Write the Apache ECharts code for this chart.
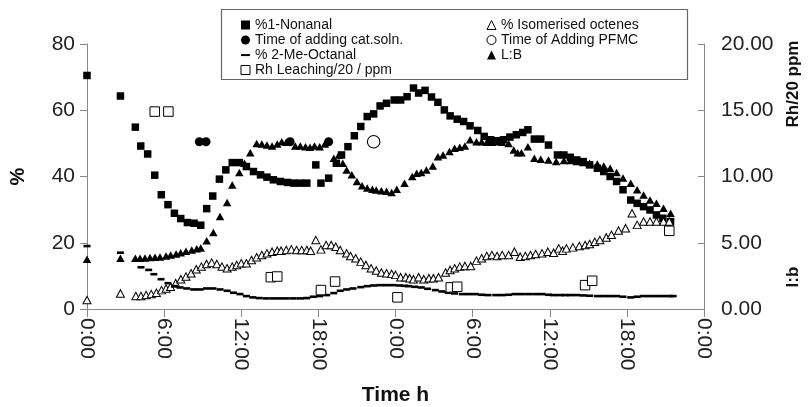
<!DOCTYPE html>
<html>
<head>
<meta charset="utf-8">
<script src="https://cdn.jsdelivr.net/npm/echarts@6/dist/echarts.min.js"></script>
<style>
html,body{margin:0;padding:0;background:#fff;}
#chart{width:809px;height:407px;}
</style>
</head>
<body>
<div id="chart"></div>
<script>
// ---- Data (x = elapsed time in hours) ----
const xTickLabels = ['0:00','6:00','12:00','18:00','0:00','6:00','12:00','18:00','0:00'];

// left axis (%)
const nonanal = [[0,70.5],[2.6,64.3],[3.76,54.9],[4.18,49.2],[4.72,46.8],[5.27,40.4],[5.78,34.5],[6.3,31.5],[6.8,28.9],[7.29,27.3],[7.81,26.1],[8.33,25.9],[8.85,25.3],[9.31,30.3],[9.78,34.1],[10.3,39.2],[10.8,42.0],[11.3,44.2],[11.85,44.2],[12.4,43.0],[12.95,41.5],[13.5,40.5],[14.0,39.8],[14.5,39.0],[15.05,38.5],[15.6,38.2],[16.1,38.0],[16.6,38.0],[17.1,38.0],[17.8,43.5],[18.2,38.0],[18.8,39.5],[19.4,44.0],[19.8,46.5],[20.3,49.0],[20.8,52.3],[21.3,55.1],[21.8,58.1],[22.3,58.9],[22.8,61.3],[23.3,62.1],[23.9,63.1],[24.4,63.1],[24.9,64.1],[25.4,66.7],[25.8,65.2],[26.3,66.0],[26.8,64.0],[27.3,62.4],[27.8,60.1],[28.25,58.3],[28.8,57.3],[29.3,56.6],[29.8,55.3],[30.4,53.9],[30.9,52.1],[31.4,51.1],[31.9,50.8],[32.4,51.1],[32.9,51.9],[33.4,52.6],[33.9,53.3],[34.3,54.1],[34.8,51.3],[35.3,51.3],[35.9,49.5],[36.6,46.5],[37.1,46.5],[37.6,45.8],[38.1,45.0],[38.6,44.5],[39.1,43.5],[39.7,42.5],[40.2,41.5],[40.7,40.0],[41.2,38.5],[41.7,36.0],[42.3,32.9],[42.8,31.9],[43.3,30.9],[43.8,29.9],[44.3,28.4],[44.8,27.4],[45.4,26.4]];

const isomerised = [[0,2.7],[2.6,4.7],[3.8,3.9],[4.2,3.9],[4.6,4.2],[5.0,4.5],[5.4,4.9],[5.8,5.7],[6.15,6.2],[6.5,6.7],[6.9,7.8],[7.3,9.0],[7.7,9.8],[8.1,10.8],[8.5,12.0],[8.9,12.8],[9.3,13.6],[9.7,14.0],[10.1,13.6],[10.5,12.8],[10.9,12.3],[11.3,12.8],[11.65,13.3],[12.0,13.8],[12.4,13.8],[12.8,14.8],[13.2,15.6],[13.6,16.3],[14.0,16.8],[14.4,17.3],[14.8,17.6],[15.1,17.6],[15.5,17.8],[15.9,18.0],[16.3,17.8],[16.7,17.8],[17.1,17.8],[17.4,17.6],[17.8,20.8],[18.2,18.0],[18.6,19.3],[19.0,19.3],[19.35,18.8],[19.7,17.8],[20.2,16.8],[20.5,16.0],[20.9,15.3],[21.3,14.3],[21.7,13.3],[22.1,12.3],[22.5,11.6],[22.9,11.0],[23.3,10.8],[23.7,10.6],[24.0,10.3],[24.4,9.6],[24.8,9.6],[25.1,9.3],[25.4,9.0],[25.8,9.6],[26.2,9.0],[26.6,9.3],[26.95,9.3],[27.35,9.6],[27.9,11.0],[28.25,11.8],[28.6,12.3],[29.0,12.8],[29.4,13.0],[29.85,13.0],[30.3,14.6],[30.7,15.3],[31.1,16.0],[31.5,16.3],[31.9,16.0],[32.3,16.3],[32.8,16.3],[33.25,17.3],[33.7,15.8],[34.1,16.0],[34.5,16.3],[34.9,16.6],[35.4,16.8],[35.85,17.3],[36.3,17.0],[36.7,18.3],[37.0,17.6],[37.3,18.3],[37.8,18.6],[38.3,19.0],[38.75,19.3],[39.1,19.6],[39.5,20.3],[39.9,20.8],[40.4,21.6],[40.8,22.4],[41.35,23.7],[41.9,24.4],[42.4,28.9],[42.8,25.4],[43.3,26.4],[43.8,26.4],[44.3,26.4],[44.85,26.4],[45.3,26.4]];

const catSoln = [[8.74,50.5],[9.26,50.5],[15.8,50.5],[18.8,50.5]];
const pfmc = [[22.3,50.5]];

const meOctanal = [[0,19.0],[2.6,17.0],[4.2,12.6],[4.8,11.8],[5.2,10.5],[5.76,9.0],[6.3,7.8],[6.8,6.9],[7.24,6.5],[7.76,6.2],[8.3,5.9],[8.8,5.9],[9.3,6.2],[9.8,6.2],[10.35,5.9],[10.9,5.5],[11.4,4.9],[11.9,4.5],[12.4,3.9],[12.9,3.5],[13.4,3.3],[13.95,3.2],[14.5,3.2],[15.0,3.2],[15.5,3.2],[16.05,3.2],[16.6,3.2],[17.1,3.3],[17.6,3.7],[18.1,3.9],[18.65,4.2],[19.2,4.8],[19.7,5.5],[20.2,5.9],[20.7,6.2],[21.3,6.6],[21.8,6.9],[22.3,7.1],[22.8,7.2],[23.3,7.2],[23.8,7.2],[24.3,7.1],[24.7,7.0],[25.0,6.9],[25.5,6.7],[26.0,6.5],[26.5,6.1],[27.1,5.7],[27.6,5.3],[28.1,4.9],[28.6,4.7],[29.2,4.5],[29.7,4.5],[30.2,4.5],[30.7,4.3],[31.2,4.2],[31.8,4.2],[32.3,4.2],[32.8,4.3],[33.3,4.5],[33.8,4.5],[34.35,4.5],[34.9,4.5],[35.4,4.5],[35.9,4.3],[36.3,4.2],[36.8,4.2],[37.2,4.2],[37.6,4.2],[38.1,4.2],[38.6,4.1],[39.1,4.0],[39.7,3.9],[40.2,3.9],[40.7,3.9],[41.2,3.9],[41.7,3.7],[42.3,3.5],[42.8,3.7],[43.3,3.9],[43.8,3.9],[44.3,3.9],[44.8,3.9],[45.3,3.9],[45.6,3.9]];

// right axis (l:b  and  Rh/20 ppm)
const lb = [[0,3.75],[2.6,3.83],[3.76,3.83],[4.12,3.83],[4.51,3.85],[4.9,3.88],[5.29,3.9],[5.68,3.93],[6.15,4.0],[6.51,4.08],[6.93,4.15],[7.29,4.25],[7.7,4.35],[8.15,4.45],[8.54,4.55],[8.85,4.6],[9.31,5.15],[9.83,5.78],[10.35,6.98],[10.9,8.03],[11.3,9.35],[11.85,10.3],[12.25,11.0],[12.7,11.8],[13.2,12.5],[13.6,12.45],[14.0,12.38],[14.4,12.3],[14.8,12.45],[15.15,12.63],[15.5,12.58],[16.2,12.3],[16.6,12.3],[17.0,12.25],[17.35,12.2],[17.7,12.3],[18.1,12.25],[18.5,12.45],[19.2,11.38],[19.6,11.63],[19.9,11.0],[20.2,10.5],[20.6,10.13],[21.0,9.63],[21.4,9.3],[21.8,9.13],[22.2,9.03],[22.5,8.98],[22.9,8.93],[23.3,8.88],[23.7,8.8],[24.1,9.03],[24.7,9.5],[25.3,10.0],[25.65,10.25],[26.0,10.3],[26.4,10.5],[26.9,10.8],[27.3,11.5],[27.7,11.63],[28.2,11.88],[28.6,12.13],[29.0,12.2],[29.4,12.3],[29.8,12.78],[30.3,12.63],[30.7,12.63],[31.1,12.58],[31.5,12.58],[31.9,12.63],[32.3,12.58],[32.8,12.5],[33.2,12.0],[33.5,11.8],[33.8,11.8],[34.3,12.25],[34.8,11.38],[35.3,11.3],[35.9,11.25],[36.5,11.13],[37.1,11.2],[37.6,11.2],[38.1,11.13],[38.6,11.05],[39.1,11.0],[39.7,10.95],[40.2,10.8],[40.7,10.63],[41.2,10.3],[41.7,9.88],[42.3,9.5],[42.8,9.0],[43.3,8.6],[43.8,8.23],[44.3,7.98],[44.85,7.6],[45.4,7.23]];

const rhLeaching = [[5.27,14.9],[6.33,14.9],[14.3,2.4],[14.8,2.45],[18.2,1.43],[19.3,2.07],[24.15,0.88],[28.3,1.63],[28.8,1.68],[38.75,1.8],[39.3,2.13],[45.3,5.9]];

const seriesNames = ['%1-Nonanal','% Isomerised octenes','Time of adding cat.soln.','Time of Adding PFMC','% 2-Me-Octanal','L:B','Rh Leaching/20 / ppm'];

// ---- Chart ----
const FONT = '"Liberation Sans", Arial, sans-serif';
const chart = echarts.init(document.getElementById('chart'), null, {renderer: 'canvas'});
const dashIcon = 'path://M0,0 M0,4 L10,4 L10,6.2 L0,6.2 Z M10,10';
const INK = '#000';

const option = {
  animation: false,
  backgroundColor: '#fff',
  textStyle: {fontFamily: FONT},
  grid: {left: 87, right: 105, top: 44, bottom: 98, outerBoundsMode: 'none', containLabel: false},
  graphic: [
    {type: 'rect', z: 0, shape: {x: 221.5, y: 9.5, width: 466, height: 70}, style: {fill: 'none', stroke: '#666', lineWidth: 1.2}},
    {type: 'text', x: 793, y: 84, rotation: Math.PI / 2, style: {text: 'Rh/20 ppm', font: 'bold 17px ' + FONT, fill: '#111', align: 'center', verticalAlign: 'middle'}},
    {type: 'text', x: 793, y: 277, rotation: Math.PI / 2, style: {text: 'l:b', font: 'bold 17px ' + FONT, fill: '#111', align: 'center', verticalAlign: 'middle'}}
  ],
  legend: [
    {
      orient: 'vertical', left: 235.5, top: 12.5, itemWidth: 9, itemHeight: 9, itemGap: 0,
      textStyle: {fontSize: 14, lineHeight: 15, color: '#111', fontFamily: FONT},
      itemStyle: {borderWidth: 1, opacity: 1},
      data: [
        {name: seriesNames[0]},
        {name: seriesNames[2]},
        {name: seriesNames[4], icon: dashIcon},
        {name: seriesNames[6]}
      ]
    },
    {
      orient: 'vertical', left: 481.5, top: 12.5, itemWidth: 9, itemHeight: 9, itemGap: 0,
      textStyle: {fontSize: 14, lineHeight: 15, color: '#111', fontFamily: FONT},
      itemStyle: {borderWidth: 1, opacity: 1},
      data: [
        {name: seriesNames[1]},
        {name: seriesNames[3]},
        {name: seriesNames[5]}
      ]
    }
  ],
  xAxis: {
    type: 'value', min: 0, max: 48, interval: 6,
    axisLine: {lineStyle: {color: '#888', width: 1}},
    axisTick: {length: 8, lineStyle: {color: '#888'}},
    splitLine: {show: false},
    axisLabel: {rotate: -90, fontSize: 21, color: '#222', margin: 9, fontFamily: FONT,
      formatter: v => xTickLabels[Math.round(v / 6)]},
    name: 'Time h', nameLocation: 'middle', nameGap: 76,
    nameTextStyle: {fontWeight: 'bold', fontSize: 21, color: '#111', fontFamily: FONT}
  },
  yAxis: [
    {
      type: 'value', min: 0, max: 80, interval: 20, position: 'left',
      axisLine: {show: true, lineStyle: {color: '#888'}},
      axisTick: {show: true, length: 7, lineStyle: {color: '#888'}},
      splitLine: {show: false},
      axisLabel: {fontSize: 21, color: '#222', margin: 12, fontFamily: FONT},
      name: '%', nameLocation: 'middle', nameGap: 59, nameRotate: 90,
      nameTextStyle: {fontWeight: 'bold', fontSize: 20, color: '#111', fontFamily: FONT}
    },
    {
      type: 'value', min: 0, max: 20, interval: 5, position: 'right',
      axisLine: {show: true, lineStyle: {color: '#888'}},
      axisTick: {show: true, inside: true, length: 6, lineStyle: {color: '#888'}},
      splitLine: {show: false},
      axisLabel: {fontSize: 21, color: '#222', margin: 17, fontFamily: FONT, formatter: v => v.toFixed(2)}
    }
  ],
  series: [
    {name: seriesNames[0], type: 'scatter', yAxisIndex: 0, data: nonanal, symbol: 'rect', symbolSize: 7.5,
      itemStyle: {color: INK, opacity: 1}},
    {name: seriesNames[1], type: 'scatter', yAxisIndex: 0, data: isomerised, symbol: 'triangle', symbolSize: [8, 7.5],
      itemStyle: {color: '#fff', borderColor: INK, borderWidth: 1, opacity: 1}},
    {name: seriesNames[2], type: 'scatter', yAxisIndex: 0, data: catSoln, symbol: 'circle', symbolSize: 9,
      itemStyle: {color: INK, opacity: 1}},
    {name: seriesNames[3], type: 'scatter', yAxisIndex: 0, data: pfmc, symbol: 'circle', symbolSize: 12.5,
      itemStyle: {color: '#fff', borderColor: INK, borderWidth: 1.1, opacity: 1}},
    {name: seriesNames[4], type: 'scatter', yAxisIndex: 0, data: meOctanal, symbol: 'rect', symbolSize: [7, 2.6],
      itemStyle: {color: INK, opacity: 1}},
    {name: seriesNames[5], type: 'scatter', yAxisIndex: 1, data: lb, symbol: 'triangle', symbolSize: [8.5, 7.5],
      itemStyle: {color: INK, opacity: 1}},
    {name: seriesNames[6], type: 'scatter', yAxisIndex: 1, data: rhLeaching, symbol: 'rect', symbolSize: 9.5,
      itemStyle: {color: '#fff', borderColor: INK, borderWidth: 1, opacity: 1}}
  ]
};
chart.setOption(option);
</script>
</body>
</html>
